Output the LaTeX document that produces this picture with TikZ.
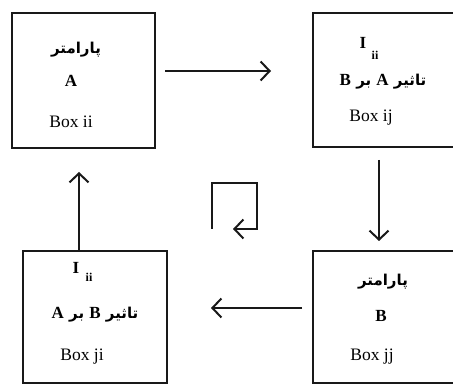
\documentclass[tikz,border=0pt]{standalone}
\usepackage{fontspec}
\setmainfont{Liberation Serif}
\newfontfamily\fa[Script=Arabic]{DejaVu Sans}
\newfontfamily\letterfont{Liberation Serif}
\TeXXeTstate=1
\usetikzlibrary{arrows.meta}
\newcommand\lettersize{\letterfont\bfseries\fontsize{17}{20}\selectfont}
\begin{document}
\begin{tikzpicture}[x=1pt,y=-1pt,
  boxline/.style={line width=2pt, black!90},
  flow/.style={line width=2pt, black!90, -{Straight Barb[length=9pt,width=19pt,line width=2pt]}},
  label/.style={inner sep=0pt, font=\fontsize{17.5}{20}\selectfont},
  persian/.style={inner sep=0pt, font=\fa\bfseries\fontsize{15}{18}\selectfont},
  letter/.style={inner sep=0pt, font=\lettersize},
  sub/.style={inner sep=0pt, font=\letterfont\bfseries\fontsize{12}{13}\selectfont}]
\clip (0,0) rectangle (453,385);
\fill[white] (0,0) rectangle (453,385);

% the four boxes
\draw[boxline] (12,13) rectangle (155,148);
\draw[boxline] (313,13) rectangle (470,147);
\draw[boxline] (23,251) rectangle (167,383);
\draw[boxline] (313,251) rectangle (470,383);
\node[minimum width=143pt, minimum height=135pt, inner sep=0pt] (ii) at (83.5,80.5) {};
\node[minimum width=157pt, minimum height=134pt, inner sep=0pt] (ij) at (391.5,80) {};
\node[minimum width=144pt, minimum height=132pt, inner sep=0pt] (ji) at (95,317) {};
\node[minimum width=157pt, minimum height=132pt, inner sep=0pt] (jj) at (391.5,317) {};

% box ii
\node[persian] (iiT) at (76,50) {\beginR پارامتر\endR};
\node[letter] (iiA) at (71,81) {A};
\node[label] (iiB) at (71,122) {Box ii};

% box ij
\node[letter] (ijI) at (363,43) {I};
\node[sub] (ijS) at (375,55) {ii};
\node[persian] (ijT) at (383,82) {\beginR تاثیر {\lettersize A} بر {\lettersize B}\endR};
\node[label] (ijB) at (371,118) {Box ij};

% box ji
\node[letter] (jiI) at (76,268) {I};
\node[sub] (jiS) at (89,277) {ii};
\node[persian] (jiT) at (95,315) {\beginR تاثیر {\lettersize B} بر {\lettersize A}\endR};
\node[label] (jiB) at (82,357) {Box ji};

% box jj
\node[persian] (jjT) at (383,282) {\beginR پارامتر\endR};
\node[letter] (jjA) at (381,316) {B};
\node[label] (jjB) at (372,357) {Box jj};

% arrow end points
\coordinate (a1) at (165,71);  \coordinate (a2) at (271,71);
\coordinate (b1) at (379,160); \coordinate (b2) at (379,241);
\coordinate (c1) at (302,308); \coordinate (c2) at (211,308);
\coordinate (d1) at (79,251);  \coordinate (d2) at (79,172);
\coordinate (e1) at (212,229); \coordinate (e2) at (212,183);
\coordinate (e3) at (257,183); \coordinate (e4) at (257,229);
\coordinate (e5) at (233,229);

\draw[flow] (a1) -- (a2);
\draw[flow] (b1) -- (b2);
\draw[flow] (c1) -- (c2);
\draw[flow] (d1) -- (d2);
\draw[flow] (e1) -- (e2) -- (e3) -- (e4) -- (e5);
\end{tikzpicture}
\end{document}
